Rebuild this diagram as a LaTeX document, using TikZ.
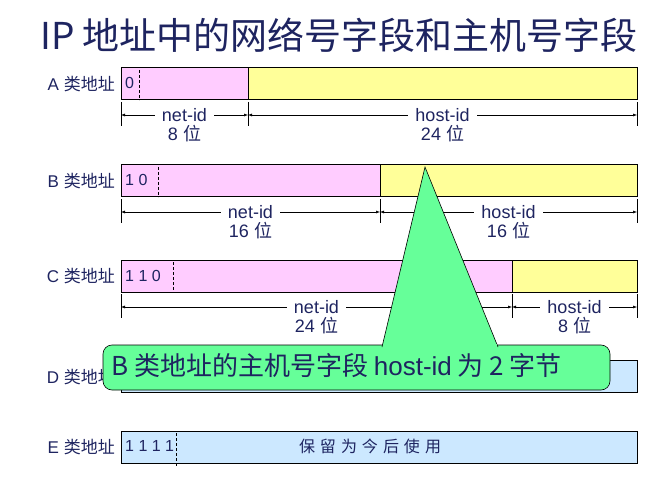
\documentclass[tikz,border=0pt]{standalone}
\usepackage{fontspec}
\setmainfont{Liberation Sans}
\newfontfamily\cjk{Noto Sans CJK SC}
\usetikzlibrary{arrows.meta}
\definecolor{ink}{HTML}{1E2460}
\definecolor{pinkf}{HTML}{FFCCFF}
\definecolor{yelf}{HTML}{FFFF99}
\definecolor{bluef}{HTML}{CCE8FF}
\definecolor{greenf}{HTML}{66FF99}
\tikzset{
  fld/.style={draw=black,line width=1pt},
  dv/.style={densely dashed,line width=0.8pt},
  lbl/.style={text=ink,font=\fontsize{17}{17}\selectfont,anchor=east,inner sep=0pt},
  dimtxt/.style={text=ink,font=\fontsize{18}{18}\selectfont,fill=white,inner xsep=7pt,inner ysep=2pt},
  bits/.style={text=ink,font=\fontsize{16}{16}\selectfont,anchor=west,inner sep=0pt},
  dimln/.style={{Latex[length=4pt,width=3pt]}-{Latex[length=4pt,width=3pt]},line width=0.5pt},
  tick/.style={line width=0.5pt}
}
\newcommand{\dimrow}[6]{% y, x1, x2, name, label, sub
  \coordinate (#4l) at (#2,#1); \coordinate (#4r) at (#3,#1);
  \draw[dimln] (#4l) -- (#4r);
  \node[dimtxt] (#4t) at ({(#2+#3)/2},#1) {#5};
  \node[dimtxt,fill=none] (#4s) at ({(#2+#3)/2},#1+19) {#6};
}
\begin{document}
\begin{tikzpicture}[x=1pt,y=-1pt]
\useasboundingbox (0,0) rectangle (667,500);
\node[text=ink,font=\fontsize{37}{37}\selectfont\cjk,anchor=west,inner sep=0pt] (title) at (40,35) {IP 地址中的网络号字段和主机号字段};
% A
\node[lbl] (la) at (115,84) {A {\cjk 类地址}};
\draw[fld,fill=pinkf] (121,68) rectangle (248,100);
\draw[fld,fill=yelf] (248,68) rectangle (637,100);
\draw[dv] (139,70) -- (139,100);
\node[bits] (ba) at (125,83) {0};
\foreach \x in {121,248,637} \draw[tick] (\x,102) -- (\x,126);
\dimrow{115}{121}{248}{an}{net-id}{8 {\cjk 位}}
\dimrow{115}{248}{637}{ah}{host-id}{24 {\cjk 位}}
% B
\node[lbl] (lb) at (115,181) {B {\cjk 类地址}};
\draw[fld,fill=pinkf] (121,165) rectangle (380,197);
\draw[fld,fill=yelf] (380,165) rectangle (637,197);
\draw[dv] (158,167) -- (158,197);
\node[bits] (bb) at (125,180) {1 0};
\foreach \x in {121,380,637} \draw[tick] (\x,199) -- (\x,223);
\dimrow{212}{121}{380}{bn}{net-id}{16 {\cjk 位}}
\dimrow{212}{380}{637}{bh}{host-id}{16 {\cjk 位}}
% C
\node[lbl] (lc) at (115,276) {C {\cjk 类地址}};
\draw[fld,fill=pinkf] (121,260) rectangle (512,292);
\draw[fld,fill=yelf] (512,260) rectangle (637,292);
\draw[dv] (173,262) -- (173,292);
\node[bits] (bc) at (125,276) {1 1 0};
\foreach \x in {121,512,637} \draw[tick] (\x,294) -- (\x,318);
\dimrow{307}{121}{512}{cn}{net-id}{24 {\cjk 位}}
\dimrow{307}{512}{637}{ch}{host-id}{8 {\cjk 位}}
% D
\node[lbl] (ld) at (115,377) {D {\cjk 类地址}};
\draw[fld,fill=bluef] (121,360) rectangle (637,392);
% E
\node[lbl] (le) at (115,447) {E {\cjk 类地址}};
\draw[fld,fill=bluef] (121,431) rectangle (637,463);
\draw[dv] (176,433) -- (176,467);
\node[bits] (be) at (125,446) {1 1 1 1};
\node[text=ink,font=\fontsize{16}{16}\selectfont\cjk,inner sep=0pt] (res) at (370,446) {保\hspace{5pt}留\hspace{5pt}为\hspace{5pt}今\hspace{5pt}后\hspace{5pt}使\hspace{5pt}用};
% callout
\draw[line width=0.6pt,fill=greenf,rounded corners=9pt] (103,345) rectangle (610,390);
\draw[line width=0.6pt,fill=greenf] (382,347) -- (425,167) -- (498,347);
\fill[greenf] (383,344) rectangle (497,349);
\node[text=ink,font=\fontsize{26}{26}\selectfont\cjk,anchor=west,inner sep=0pt] (call) at (111,366) {B 类地址的主机号字段 {\fontspec{Liberation Sans}host-id} 为 2 字节};
\end{tikzpicture}
\end{document}
